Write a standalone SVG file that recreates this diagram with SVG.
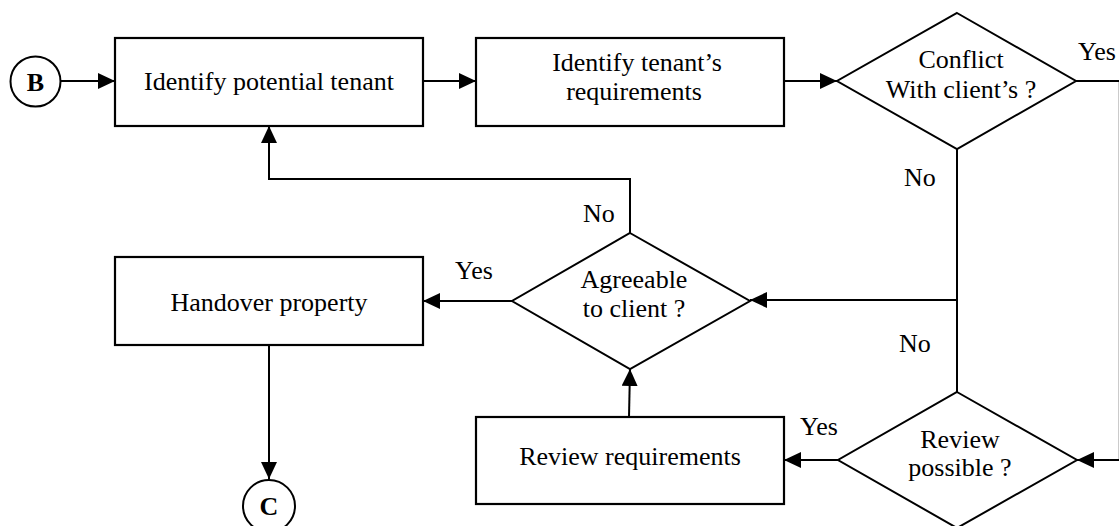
<svg xmlns="http://www.w3.org/2000/svg" width="1119" height="526" viewBox="0 0 1119 526">
<defs>
<marker id="arr" viewBox="0 0 17 16" refX="17" refY="8" markerWidth="17" markerHeight="16" markerUnits="userSpaceOnUse" orient="auto">
<path d="M0,0 L17,8 L0,16 Z" fill="#000"/>
</marker>
<style>
.box{fill:#fff;stroke:#000;stroke-width:2.2}
.dia{fill:#fff;stroke:#000;stroke-width:2}
.cir{fill:#fff;stroke:#000;stroke-width:2}
.c{fill:none;stroke:#000;stroke-width:2}
text{font-family:'Liberation Serif','DejaVu Serif','Times New Roman',serif;font-size:26px;fill:#000}
.t{text-anchor:middle}
.b{font-weight:bold;text-anchor:middle}
</style>
</defs>
<rect width="1119" height="526" fill="#fff"/>
<g id="connectors">
<path class="c" d="M61,81 H115" marker-end="url(#arr)"/>
<path class="c" d="M423,81 H476" marker-end="url(#arr)"/>
<path class="c" d="M784,81 H837" marker-end="url(#arr)"/>
<path class="c" d="M1076,81 H1119.8 V460 H1077" marker-end="url(#arr)"/>
<path class="c" d="M957,149 V392"/>
<path class="c" d="M957,300 H750" marker-end="url(#arr)"/>
<path class="c" d="M630,233 V179 H269 V126" marker-end="url(#arr)"/>
<path class="c" d="M512,301 H423" marker-end="url(#arr)"/>
<path class="c" d="M629,417 L630,369" marker-end="url(#arr)"/>
<path class="c" d="M838,460 H784" marker-end="url(#arr)"/>
<path class="c" d="M269,345 V479" marker-end="url(#arr)"/>
<text x="1078" y="60">Yes</text>
<text x="904" y="186">No</text>
<text x="583" y="222">No</text>
<text x="455" y="279">Yes</text>
<text x="899" y="352">No</text>
<text x="800" y="435">Yes</text>
</g>
<g id="nodeB">
<circle class="cir" cx="35.5" cy="81.5" r="25"/>
<text class="b" x="35.5" y="91">B</text>
</g>
<g id="identifyTenant">
<rect class="box" x="115" y="38" width="308" height="88"/>
<text class="t" x="269" y="90">Identify potential tenant</text>
</g>
<g id="identifyReq">
<rect class="box" x="476" y="38" width="308" height="88"/>
<text class="t" x="637" y="71">Identify tenant’s</text>
<text class="t" x="634" y="100">requirements</text>
</g>
<g id="conflict">
<polygon class="dia" points="957,13 1076,81 957,149 837,81"/>
<text class="t" x="961" y="68">Conflict</text>
<text class="t" x="961" y="98">With client’s ?</text>
</g>
<g id="agreeable">
<polygon class="dia" points="630,233 750,301 630,369 512,301"/>
<text class="t" x="634" y="288">Agreeable</text>
<text class="t" x="634" y="317">to client ?</text>
</g>
<g id="handover">
<rect class="box" x="115" y="257" width="308" height="88"/>
<text class="t" x="269" y="311">Handover property</text>
</g>
<g id="reviewReq">
<rect class="box" x="476" y="417" width="308" height="87"/>
<text class="t" x="630" y="465">Review requirements</text>
</g>
<g id="reviewPossible">
<polygon class="dia" points="957,392 1077,460 957,528 838,460"/>
<text class="t" x="960" y="448">Review</text>
<text class="t" x="960" y="476">possible ?</text>
</g>
<g id="nodeC">
<circle class="cir" cx="269" cy="506" r="26"/>
<text class="b" x="269" y="515">C</text>
</g>
</svg>
